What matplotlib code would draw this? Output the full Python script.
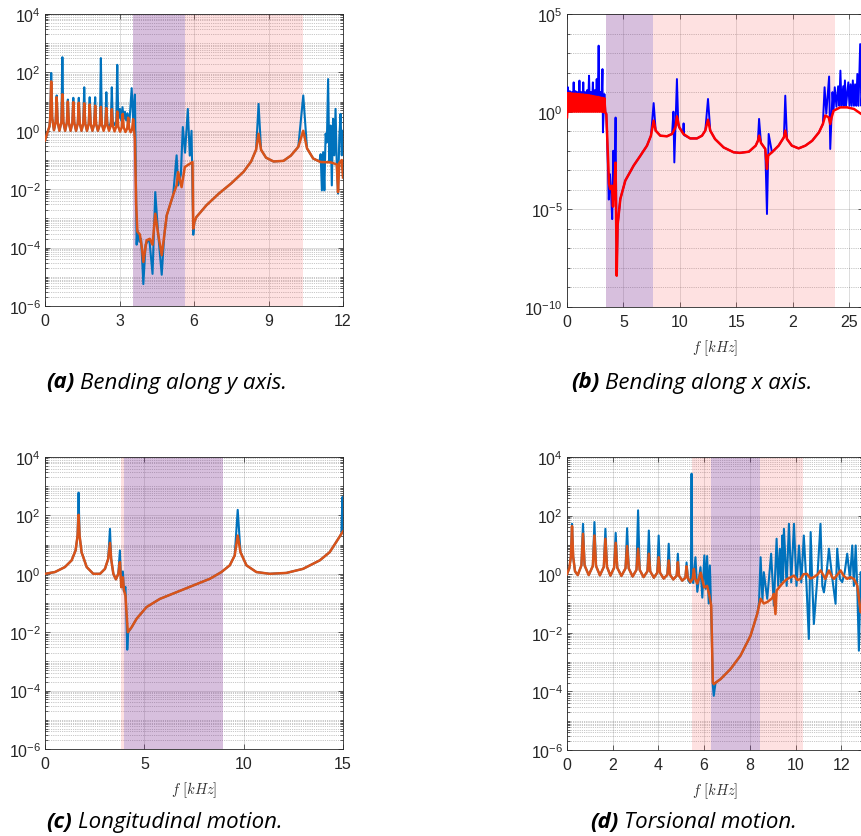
"""
Frequency response magnitudes of a periodic beam, four motion types, with
band-gap regions shaded. Values are read off the original figure and stored
as (frequency in kHz, log10 magnitude) pairs.
"""

import numpy as np
import matplotlib
matplotlib.use("Agg")
import matplotlib.pyplot as plt
from matplotlib.ticker import LogLocator, NullFormatter, FixedLocator

plt.rcParams["font.family"] = ["Liberation Sans", "DejaVu Sans"]
plt.rcParams["mathtext.fontset"] = "cm"

# ---------------------------------------------------------------- (a) bending y
a_blue = [
    (0, -0.33), (0.1, -0.05), (0.18, 0.15), (0.21, 0.45), (0.25, 1.98), (0.29, 0.45), (0.36, 0.02),
    (0.43, 0.3), (0.47, 1.21), (0.51, 0.3), (0.58, 0.0),
    (0.66, 0.3), (0.70, 2.52), (0.74, 0.3), (0.81, 0.0),
    (0.88, 0.28), (0.92, 1.07), (0.96, 0.28), (1.03, 0.0),
    (1.10, 0.27), (1.14, 1.13), (1.18, 0.27), (1.25, 0.0),
    (1.32, 0.26), (1.36, 1.13), (1.40, 0.26), (1.47, 0.0),
    (1.54, 0.25), (1.58, 1.49), (1.62, 0.25), (1.69, 0.0),
    (1.76, 0.24), (1.80, 1.15), (1.84, 0.24), (1.91, 0.0),
    (1.98, 0.23), (2.02, 1.15), (2.06, 0.23), (2.13, 0.0),
    (2.21, 0.22), (2.25, 2.49), (2.29, 0.22), (2.36, 0.05),
    (2.43, 0.25), (2.47, 1.32), (2.51, 0.25), (2.58, 0.1),
    (2.65, 0.3), (2.69, 1.49), (2.73, 0.3), (2.80, 0.2),
    (2.87, 0.35), (2.91, 2.26), (2.95, 0.4), (3.02, 0.75), (3.07, 0.35), (3.12, 0.81),
    (3.17, 0.4), (3.22, 0.65), (3.27, 0.35), (3.32, 0.6), (3.4, 0.3), (3.49, 1.46),
    (3.55, 0.35), (3.62, 1.24), (3.66, -1.5), (3.69, -3.9), (3.72, -3.4), (3.8, -3.8),
    (3.87, -3.7), (3.96, -5.25), (4.05, -3.9), (4.2, -3.7), (4.33, -4.9), (4.44, -2.1),
    (4.55, -3.45), (4.7, -4.93), (4.8, -3.6), (4.9, -2.9), (5.16, -2.2), (5.3, -0.84),
    (5.36, -1.87), (5.47, -1.5), (5.55, 0.13), (5.64, -0.75), (5.75, 0.75), (5.83, -0.85),
    (5.9, 0.0), (5.97, -3.56), (6.02, -3.1), (6.1, -2.95), (6.5, -2.55), (7.0, -2.15),
    (7.5, -1.8), (8.0, -1.4), (8.3, -1.05), (8.5, -0.65), (8.6, 0.92), (8.7, -0.65),
    (8.9, -0.92), (9.2, -1.05), (9.6, -1.03), (9.9, -0.85), (10.2, -0.55), (10.4, 1.21),
    (10.55, -0.6), (10.8, -0.95), (11.05, -1.05), (11.1, -0.8), (11.15, -2.04), (11.2, -0.73),
    (11.25, -2.04), (11.3, -0.1), (11.35, -0.4), (11.4, 1.77), (11.45, -1.07), (11.5, 0.18),
    (11.55, -1.87), (11.6, 0.41), (11.65, -0.84), (11.7, 0.75), (11.75, -1.18), (11.8, -2.15),
    (11.85, -0.27), (11.9, 0.58), (11.95, -0.84), (12.0, 0.0),
]
a_orange = [
    (0, -0.33), (0.1, -0.05), (0.18, 0.15), (0.21, 0.45), (0.25, 1.69), (0.29, 0.45), (0.36, 0.02),
    (0.43, 0.3), (0.47, 1.15), (0.51, 0.3), (0.58, 0.0),
    (0.66, 0.3), (0.70, 1.25), (0.74, 0.3), (0.81, 0.0),
    (0.88, 0.28), (0.92, 1.0), (0.96, 0.28), (1.03, 0.0),
    (1.10, 0.27), (1.14, 0.98), (1.18, 0.27), (1.25, 0.0),
    (1.32, 0.26), (1.36, 0.96), (1.40, 0.26), (1.47, 0.0),
    (1.54, 0.25), (1.58, 0.94), (1.62, 0.25), (1.69, 0.0),
    (1.76, 0.24), (1.80, 0.9), (1.84, 0.24), (1.91, 0.0),
    (1.98, 0.23), (2.02, 0.86), (2.06, 0.23), (2.13, 0.0),
    (2.21, 0.22), (2.25, 0.82), (2.29, 0.22), (2.36, 0.0),
    (2.43, 0.2), (2.47, 0.78), (2.51, 0.2), (2.58, 0.0),
    (2.65, 0.18), (2.69, 0.74), (2.73, 0.18), (2.80, -0.02),
    (2.87, 0.15), (2.91, 0.66), (2.95, 0.15), (3.02, -0.03),
    (3.09, 0.12), (3.13, 0.58), (3.17, 0.12), (3.24, -0.04),
    (3.31, 0.08), (3.35, 0.45), (3.39, 0.08), (3.45, -0.05),
    (3.51, 0.06), (3.55, 0.4), (3.59, 0.0), (3.62, -0.3),
    (3.67, -2.5), (3.72, -3.45), (3.82, -3.55), (3.9, -4.0), (3.96, -4.49), (4.09, -3.75),
    (4.22, -3.7), (4.33, -3.9), (4.44, -2.84), (4.55, -3.5), (4.7, -4.26), (4.8, -3.6),
    (4.9, -2.9), (5.16, -2.2), (5.3, -1.87), (5.36, -1.41), (5.5, -1.93), (5.63, -1.24),
    (5.83, -1.13), (5.94, -1.07), (5.97, -3.35), (6.02, -3.1), (6.1, -2.95), (6.5, -2.55),
    (7.0, -2.15), (7.5, -1.8), (8.0, -1.4), (8.3, -1.05), (8.5, -0.65), (8.6, -0.1),
    (8.7, -0.65), (8.9, -0.92), (9.2, -1.05), (9.6, -1.03), (9.9, -0.85), (10.2, -0.55),
    (10.4, 0.0), (10.55, -0.6), (10.8, -0.95), (11.1, -1.07), (11.5, -1.08), (11.75, -1.15),
    (11.8, -2.1), (11.85, -1.1), (11.95, -1.0), (12.0, -1.6),
]
a_purple = (3.54, 5.64)
a_pink = [(5.64, 10.39)]

# ---------------------------------------------------------------- (b) bending x
b_comb_red = [
    (0.0, -0.29), (0.08, 0.95), (0.16, 0.0), (0.25, 0.95), (0.33, 0.0), (0.42, 0.93),
    (0.5, 0.0), (0.59, 0.92), (0.67, 0.0), (0.76, 0.92), (0.84, 0.0), (0.93, 0.9),
    (1.01, 0.0), (1.1, 0.9), (1.18, 0.0), (1.27, 0.88), (1.35, 0.0), (1.44, 0.88),
    (1.52, 0.0), (1.61, 0.86), (1.69, 0.0), (1.78, 0.85), (1.86, 0.0), (1.95, 0.84),
    (2.03, 0.0), (2.12, 0.82), (2.2, 0.0), (2.29, 0.8), (2.37, 0.0), (2.46, 0.78),
    (2.54, 0.0), (2.63, 0.76), (2.71, 0.0), (2.8, 0.75), (2.88, 0.0), (2.97, 0.72),
    (3.05, 0.0), (3.14, 0.7), (3.22, -0.02), (3.31, 0.68), (3.39, -0.05),
]
b_red = b_comb_red + [
    (3.48, -0.12), (3.6, -1.91), (3.72, -3.7), (3.83, -3.96), (3.98, -3.79), (4.07, -4.86),
    (4.19, -3.79), (4.3, -2.61), (4.4, -8.4), (4.48, -5.8), (4.72, -4.47), (5.16, -3.53),
    (5.9, -2.76), (6.5, -2.25), (7.08, -1.74), (7.43, -1.23), (7.67, -0.46), (7.85, -0.97),
    (8.26, -1.23), (8.85, -1.26), (9.3, -1.14), (9.6, -0.8), (9.73, -0.24), (9.94, -0.8),
    (10.3, -1.14), (10.9, -1.37), (11.5, -1.37), (11.95, -1.23), (12.24, -0.97), (12.48, -0.41),
    (12.68, -0.97), (13.1, -1.4), (13.86, -1.83), (14.75, -2.08), (15.3, -2.11), (16.1, -2.05),
    (16.7, -1.74), (16.9, -1.49), (17.0, -1.23), (17.17, -1.6), (17.55, -1.91), (17.7, -2.93),
    (17.8, -2.25), (18.14, -2.08), (18.73, -1.74), (19.2, -1.31), (19.32, -0.97), (19.47, -1.4),
    (19.9, -1.74), (20.5, -1.88), (21.1, -1.74), (21.7, -1.49), (22.3, -1.06), (22.65, -0.63),
    (22.86, -0.2), (23.16, -0.29), (23.3, -0.63), (23.42, -0.29), (23.6, 0.05), (24.19, 0.22),
    (24.8, 0.22), (25.4, 0.14), (26.05, -0.12), (26.4, -0.2),
]
b_blue = [
    (0.0, -0.29), (0.08, 1.25), (0.16, 0.1), (0.25, 1.05), (0.33, 0.1), (0.42, 1.0),
    (0.5, 0.1), (0.59, 1.5), (0.67, 0.1), (0.76, 1.05), (0.84, 0.1), (0.93, 1.0),
    (1.01, 0.1), (1.1, 1.59), (1.18, 0.1), (1.27, 1.0), (1.35, 0.1), (1.44, 1.5),
    (1.52, 0.1), (1.61, 1.0), (1.69, 0.1), (1.78, 1.1), (1.86, 0.1), (1.95, 1.84),
    (2.03, 0.1), (2.12, 1.0), (2.2, 0.1), (2.29, 1.5), (2.37, 0.1), (2.46, 1.1),
    (2.54, 0.1), (2.63, 1.67), (2.71, 0.1), (2.8, 3.38), (2.88, 0.1), (2.97, 1.0),
    (3.05, 0.1), (3.14, 2.18), (3.18, -1.06), (3.31, 0.9), (3.39, 0.0),
    (3.48, -0.12), (3.6, -2.3), (3.7, -4.5), (3.8, -3.2), (3.9, -4.1), (4.0, -5.5),
    (4.1, -2.0), (4.2, -4.3), (4.3, -0.3), (4.4, -8.3), (4.48, -5.8), (4.72, -4.47),
    (5.16, -3.53), (5.9, -2.76), (6.5, -2.25), (7.08, -1.74), (7.43, -1.23), (7.67, 0.44),
    (7.85, -0.97), (8.26, -1.23), (8.85, -1.26), (9.3, -1.14), (9.42, 0.0), (9.5, -2.6),
    (9.6, -0.8), (9.73, 1.67), (9.85, -0.7), (9.94, -0.8), (10.28, -1.1), (10.32, -0.6),
    (10.36, -1.2), (10.9, -1.37), (11.5, -1.37), (11.95, -1.23), (12.24, -0.97), (12.48, 0.65),
    (12.68, -0.97), (13.1, -1.4), (13.86, -1.83), (14.75, -2.08), (15.3, -2.11), (16.1, -2.05),
    (16.7, -1.74), (16.9, -1.49), (17.0, -0.37), (17.17, -1.6), (17.55, -1.91), (17.7, -5.24),
    (17.85, -1.14), (18.14, -2.08), (18.73, -1.74), (19.2, -1.31), (19.32, 0.82), (19.47, -1.4),
    (19.9, -1.74), (20.5, -1.88), (21.1, -1.74), (21.7, -1.49), (22.3, -1.06), (22.65, -0.63),
    (22.8, 1.25), (22.95, -0.1), (23.2, 1.8), (23.3, -1.91), (23.5, 1.0), (23.6, 0.1),
    (23.7, 1.25), (23.85, 0.25), (24.0, 1.3), (24.1, 0.3), (24.2, 2.1), (24.3, 0.3),
    (24.45, 1.3), (24.5, 0.3), (24.6, 1.6), (24.7, 0.3), (24.9, 1.5), (25.0, 0.3),
    (25.1, 1.4), (25.2, 0.3), (25.3, 1.6), (25.4, 0.3), (25.5, 1.4), (25.6, 0.3),
    (25.7, 1.93), (25.8, 0.3), (25.95, 3.46), (26.05, 0.3), (26.2, 1.5),
]
b_purple = (3.42, 7.64)
b_pink = [(7.64, 23.7)]

# ---------------------------------------------------------------- (c) longitudinal
c_orange = [
    (0, 0.0), (0.5, 0.06), (1.0, 0.23), (1.34, 0.46), (1.54, 0.8), (1.64, 1.31),
    (1.69, 2.02), (1.74, 1.31), (1.84, 0.74), (2.1, 0.23), (2.43, 0.0), (2.77, 0.0),
    (3.02, 0.17), (3.18, 0.51), (3.27, 1.06), (3.33, 0.51), (3.44, 0.0), (3.57, -0.19),
    (3.69, 0.0), (3.77, 0.4), (3.84, -0.46), (3.92, -0.12), (3.97, -0.55), (4.05, -0.75),
    (4.1, -1.3), (4.17, -2.0), (4.36, -1.83), (4.61, -1.54), (5.11, -1.14), (5.78, -0.86),
    (6.62, -0.63), (7.46, -0.4), (8.3, -0.17), (8.88, 0.06), (9.3, 0.29), (9.55, 0.63),
    (9.7, 1.31), (9.84, 0.74), (10.14, 0.29), (10.64, 0.06), (11.31, 0.0), (12.15, 0.03),
    (12.99, 0.17), (13.83, 0.46), (14.33, 0.74), (14.66, 1.09), (14.92, 1.37), (15.0, 1.45),
]
c_blue = [
    (0, 0.0), (0.5, 0.06), (1.0, 0.23), (1.34, 0.46), (1.54, 0.8), (1.64, 1.31),
    (1.69, 2.78), (1.74, 1.31), (1.84, 0.74), (2.1, 0.23), (2.43, 0.0), (2.77, 0.0),
    (3.02, 0.17), (3.18, 0.51), (3.27, 1.54), (3.33, 0.51), (3.44, 0.0), (3.57, -0.19),
    (3.69, 0.0), (3.77, 0.8), (3.84, -0.46), (3.92, 0.08), (3.97, -0.6), (4.05, -0.45),
    (4.1, -1.5), (4.14, -2.6), (4.19, -2.0), (4.36, -1.83), (4.61, -1.54), (5.11, -1.14),
    (5.78, -0.86), (6.62, -0.63), (7.46, -0.4), (8.3, -0.17), (8.88, 0.06), (9.3, 0.29),
    (9.55, 0.63), (9.7, 2.19), (9.84, 0.74), (10.14, 0.29), (10.64, 0.06), (11.31, 0.0),
    (12.15, 0.03), (12.99, 0.17), (13.83, 0.46), (14.33, 0.74), (14.66, 1.09), (14.92, 1.37),
    (14.97, 2.63), (15.0, 1.45),
]
c_purple = (3.98, 8.94)
c_pink = [(3.81, 3.98)]

# ---------------------------------------------------------------- (d) torsional
d_orange = [
    (0, 0.0), (0.1, 0.2), (0.17, 0.6), (0.22, 1.64), (0.27, 0.6), (0.35, 0.1), (0.47, -0.03),
    (0.63, 0.3), (0.7, 1.38), (0.77, 0.3), (0.95, -0.03),
    (1.13, 0.28), (1.2, 1.32), (1.27, 0.28), (1.44, -0.04),
    (1.61, 0.25), (1.68, 1.21), (1.75, 0.25), (1.9, -0.05),
    (2.06, 0.22), (2.13, 1.07), (2.2, 0.22), (2.38, -0.06),
    (2.56, 0.2), (2.63, 0.96), (2.7, 0.2), (2.87, -0.08),
    (3.04, 0.15), (3.11, 0.87), (3.18, 0.15), (3.35, -0.1),
    (3.52, 0.1), (3.58, 0.7), (3.64, 0.1), (3.8, -0.12),
    (3.95, 0.05), (4.01, 0.58), (4.07, 0.05), (4.23, -0.15),
    (4.39, -0.02), (4.45, 0.47), (4.51, -0.02), (4.65, -0.18),
    (4.8, -0.05), (4.85, 0.41), (4.9, -0.05), (5.04, -0.22),
    (5.18, -0.12), (5.23, 0.27), (5.28, -0.12), (5.4, -0.27),
    (5.5, -0.15), (5.55, 0.18), (5.6, -0.15), (5.7, -0.32),
    (5.85, 0.05), (6.0, -0.45), (6.13, -0.4), (6.22, -0.7), (6.31, -1.07), (6.38, -3.69),
    (6.42, -3.75), (6.72, -3.58), (7.15, -3.24), (7.59, -2.78), (8.03, -2.1), (8.32, -1.36),
    (8.47, -0.84), (8.61, -1.0), (8.76, -0.95), (8.98, -0.82), (9.05, -0.67), (9.12, -1.36),
    (9.17, -0.56), (9.34, -0.39), (9.5, -0.25), (9.64, -0.16), (9.8, -0.1), (9.93, -0.05),
    (10.08, -0.2), (10.22, -0.16), (10.35, 0.0), (10.5, 0.01), (10.65, -0.15), (10.8, -0.1),
    (10.95, -0.02), (11.1, 0.13), (11.3, -0.16), (11.46, 0.13), (11.6, -0.1), (11.68, -0.16),
    (11.85, 0.0), (11.97, 0.13), (12.1, -0.05), (12.26, -0.16), (12.4, -0.1), (12.55, -0.16),
    (12.7, -0.39), (12.85, -1.3), (12.95, -1.0),
]
d_blue = [
    (0, 0.0), (0.1, 0.2), (0.17, 0.6), (0.22, 1.72), (0.27, 0.6), (0.35, 0.1), (0.47, -0.03),
    (0.63, 0.3), (0.7, 1.72), (0.77, 0.3), (0.95, -0.03),
    (1.13, 0.28), (1.2, 1.78), (1.27, 0.28), (1.44, -0.04),
    (1.61, 0.25), (1.68, 1.55), (1.75, 0.25), (1.9, -0.05),
    (2.06, 0.22), (2.13, 1.41), (2.2, 0.22), (2.38, -0.06),
    (2.56, 0.2), (2.63, 1.57), (2.7, 0.2), (2.87, -0.08),
    (3.04, 0.15), (3.11, 2.18), (3.18, 0.15), (3.35, -0.1),
    (3.52, 0.1), (3.58, 1.49), (3.64, 0.1), (3.8, -0.12),
    (3.95, 0.05), (4.01, 1.32), (4.07, 0.05), (4.23, -0.15),
    (4.39, -0.02), (4.45, 1.04), (4.51, -0.02), (4.65, -0.18),
    (4.8, -0.05), (4.85, 0.7), (4.9, -0.05), (5.04, -0.22),
    (5.18, -0.12), (5.23, 0.4), (5.3, -0.2), (5.38, -0.3),
    (5.42, -0.1), (5.45, 3.43), (5.48, -0.1), (5.52, -0.3),
    (5.62, 0.58), (5.7, -0.6), (5.84, 0.24), (5.92, -0.8), (6.01, 0.64), (6.07, -0.5),
    (6.13, 0.62), (6.2, -1.0), (6.25, 0.3), (6.31, -1.3), (6.38, -3.8), (6.42, -4.15),
    (6.5, -3.7), (6.72, -3.58), (7.15, -3.24), (7.59, -2.78), (8.03, -2.1), (8.32, -1.36),
    (8.4, -1.0), (8.47, 0.58), (8.55, -0.9), (8.61, 0.07), (8.76, -0.84), (8.93, 0.7),
    (9.05, -1.07), (9.17, 1.21), (9.24, -0.4), (9.31, 0.87), (9.37, -0.3), (9.42, 1.32),
    (9.45, -0.2), (9.49, 1.55), (9.61, -0.4), (9.71, 1.72), (9.81, -0.28), (9.93, 1.72),
    (10.04, -0.4), (10.15, 0.98), (10.25, -0.28), (10.36, 1.32), (10.48, -0.4), (10.58, -2.21),
    (10.66, 1.44), (10.73, -0.28), (10.8, -1.7), (10.95, -0.16), (11.09, 1.72), (11.17, -0.4),
    (11.24, -0.62), (11.36, 0.07), (11.46, 0.87), (11.61, -0.16), (11.75, -1.01), (11.82, 0.87),
    (11.94, -0.16), (12.04, -0.27), (12.15, 0.07), (12.26, 0.7), (12.38, -0.16), (12.48, 0.98),
    (12.55, -0.4), (12.63, 0.98), (12.7, -0.5), (12.77, -2.61), (12.85, 0.07), (12.95, -0.6),
]
d_purple = (6.30, 8.45)
d_pink = [(5.48, 6.30), (8.45, 10.34)]

captions = [
    ("(a)", "Bending along y axis."),
    ("(b)", "Bending along x axis."),
    ("(c)", "Longitudinal motion."),
    ("(d)", "Torsional motion."),
]

MAT_BLUE = "#0072BD"
MAT_ORANGE = "#D95319"
PURPLE = (0.49, 0.18, 0.56)
PINK = (0.98, 0.35, 0.35)
W, H = 861, 837
LOG_TICKS = [1e-6, 1e-4, 1e-2, 1e0, 1e2, 1e4]


def unpack(pairs):
    f = np.array([p[0] for p in pairs])
    m = 10.0 ** np.array([p[1] for p in pairs])
    return f, m


def px_axes(fig, left, top, right, bottom):
    return fig.add_axes([left / W, 1 - bottom / H, (right - left) / W, (bottom - top) / H])


def style(ax, xlim, xticks, xlabels, ylim, yticks, every_decade):
    ax.set_yscale("log")
    ax.set_xlim(*xlim)
    ax.set_ylim(*ylim)
    ax.set_xticks(xticks)
    if xlabels is not None:
        ax.set_xticklabels(xlabels)
    ax.yaxis.set_major_locator(FixedLocator(yticks))
    if every_decade:
        ax.yaxis.set_minor_locator(LogLocator(base=10, subs=(1.0,), numticks=40))
    else:
        ax.yaxis.set_minor_locator(LogLocator(base=10, subs=np.arange(1, 10), numticks=200))
    ax.yaxis.set_minor_formatter(NullFormatter())
    ax.set_axisbelow(True)
    ax.grid(True, which="major", color="0.15", alpha=0.18, lw=0.6)
    ax.grid(True, which="minor", axis="y", color="0.15", alpha=0.5, lw=0.5, ls=":")
    ax.tick_params(which="both", direction="in", top=True, right=True,
                   colors="0.15", labelsize=11.5, width=0.5)
    ax.tick_params(which="major", length=3.5)
    ax.tick_params(which="minor", length=2)
    ax.tick_params(axis="x", pad=5)
    ax.tick_params(axis="y", pad=3)
    for s in ax.spines.values():
        s.set_color("0.15")
        s.set_linewidth(0.6)


def shade(ax, purple, pinks):
    for lo, hi in pinks:
        ax.axvspan(lo, hi, color=PINK, alpha=0.18, lw=0, zorder=1)
    ax.axvspan(purple[0], purple[1], color=PURPLE, alpha=0.3, lw=0, zorder=1)


def freq_label(ax):
    ax.set_xlabel(r"$f\ [kHz]$", fontsize=10.5, color="0.2")
    ax.xaxis.set_label_coords(0.5, -0.105)


fig = plt.figure(figsize=(W / 100, H / 100), dpi=100)

# (a)
ax = px_axes(fig, 45, 15, 343, 307)
shade(ax, a_purple, a_pink)
ax.plot(*unpack(a_blue), color=MAT_BLUE, lw=1.5, zorder=3)
ax.plot(*unpack(a_orange), color=MAT_ORANGE, lw=1.8, zorder=4)
style(ax, (0, 12), [0, 3, 6, 9, 12], None, (1e-6, 1e4), LOG_TICKS, False)

# (b)
ax = px_axes(fig, 567, 15, 863, 308)
shade(ax, b_purple, b_pink)
ax.plot(*unpack(b_blue), color="#0000FF", lw=1.4, zorder=3)
ax.plot(*unpack(b_red), color="#FF0000", lw=1.8, zorder=4)
style(ax, (0, 26.2), [0, 5, 10, 15, 20, 25], ["0", "5", "10", "15", "2", "25"],
      (1e-10, 1e5), [1e-10, 1e-5, 1e0, 1e5], True)
freq_label(ax)

# (c)
ax = px_axes(fig, 45, 458, 343, 750)
shade(ax, c_purple, c_pink)
ax.plot(*unpack(c_blue), color=MAT_BLUE, lw=1.5, zorder=3)
ax.plot(*unpack(c_orange), color=MAT_ORANGE, lw=1.8, zorder=4)
style(ax, (0, 15), [0, 5, 10, 15], None, (1e-6, 1e4), LOG_TICKS, False)
freq_label(ax)

# (d)
ax = px_axes(fig, 567, 458, 863, 751)
shade(ax, d_purple, d_pink)
ax.plot(*unpack(d_blue), color=MAT_BLUE, lw=1.5, zorder=3)
ax.plot(*unpack(d_orange), color=MAT_ORANGE, lw=1.8, zorder=4)
style(ax, (0, 12.95), [0, 2, 4, 6, 8, 10, 12], None, (1e-6, 1e4), LOG_TICKS, False)
freq_label(ax)

# captions under each panel: bold italic tag followed by italic text
caption_pos = [(46, 383), (571, 383), (46, 823), (590, 823)]
fig.canvas.draw()
renderer = fig.canvas.get_renderer()
for (tag, text), (x, y) in zip(captions, caption_pos):
    t = fig.text(x / W, 1 - y / H, tag, family="Open Sans", style="italic",
                 weight="bold", fontsize=16, va="center", color="black")
    bb = t.get_window_extent(renderer)
    fig.text((bb.x1 + 6) / W, 1 - y / H, text, family="Open Sans", style="italic",
             fontsize=16, va="center", color="black")

fig.savefig("out.png", dpi=100)
